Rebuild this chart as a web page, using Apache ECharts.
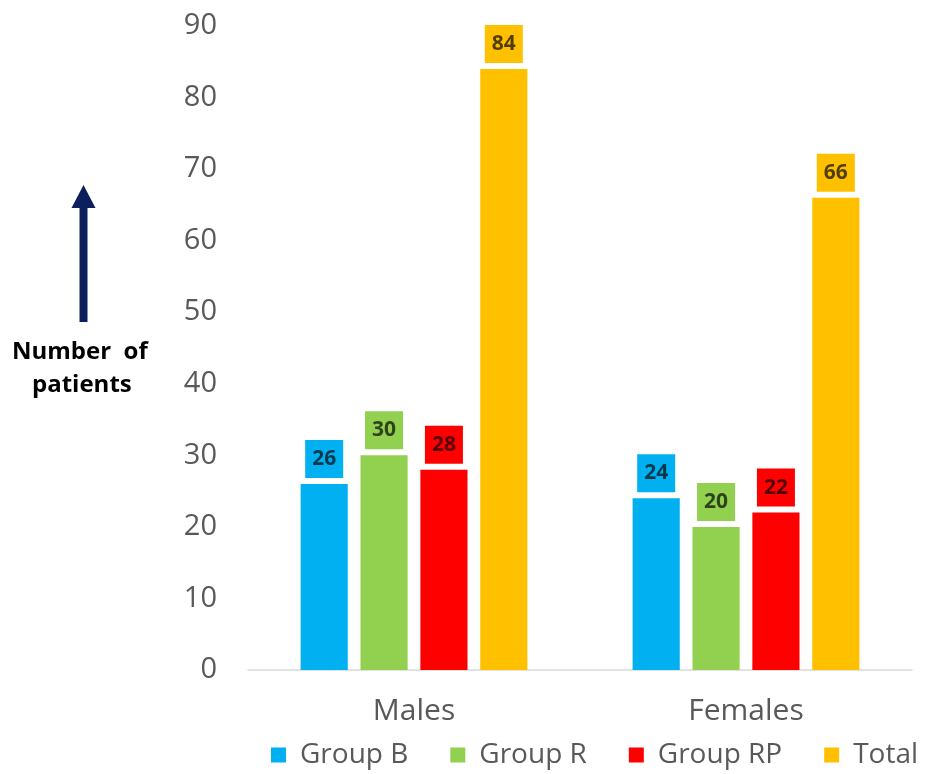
<!DOCTYPE html>
<html><head><meta charset="utf-8">
<script src="https://cdn.jsdelivr.net/npm/echarts@6/dist/echarts.min.js"></script>
<style>html,body{margin:0;padding:0;background:#fff}#c{width:929px;height:774px}</style>
</head><body><div id="c"></div>
<script>
const categories = ['Males', 'Females'];
const seriesNames = ['Group B', 'Group R', 'Group RP', 'Total'];
const groupB = [26, 24];
const groupR = [30, 20];
const groupRP = [28, 22];
const total = [84, 66];
const yTicks = [0, 10, 20, 30, 40, 50, 60, 70, 80, 90];
const colors = ['#00B0F0', '#92D050', '#FF0000', '#FFC000'];
const values = [groupB, groupR, groupRP, total];

const font = 'Open Sans';
const chart = echarts.init(document.getElementById('c'));
chart.setOption({
  animation: false,
  grid: { left: 248, right: 17, top: 26, bottom: 104 },
  xAxis: {
    type: 'category', data: categories,
    axisLine: { lineStyle: { color: '#D9D9D9', width: 1.5 } },
    axisTick: { show: false },
    axisLabel: { color: '#595959', fontSize: 30, fontFamily: font, margin: 26 }
  },
  yAxis: {
    type: 'value', min: yTicks[0], max: yTicks[yTicks.length - 1], interval: 10,
    splitLine: { show: false }, axisLine: { show: false }, axisTick: { show: false },
    axisLabel: { color: '#595959', fontSize: 29, fontFamily: font, margin: 31 }
  },
  legend: {
    top: 736, left: 266, itemWidth: 15, itemHeight: 15, itemGap: 42,
    icon: 'rect',
    textStyle: { color: '#595959', fontSize: 28, fontFamily: font, padding: [0, 0, 0, 9] },
    data: seriesNames
  },
  series: seriesNames.map((n, i) => ({
    name: n, type: 'bar', data: values[i],
    barWidth: '14.2%', barGap: '27%',
    itemStyle: { color: colors[i] },
    label: {
      show: true, position: 'top', distance: 6,
      backgroundColor: colors[i], padding: [7, 7, 7, 7],
      color: 'rgba(0,0,0,0.68)', fontSize: 21, fontWeight: 'bold', fontFamily: font,
      lineHeight: 24
    }
  })),
  graphic: [
    { type: 'rect', shape: { x: 79.5, y: 205, width: 8, height: 117 }, style: { fill: '#0B1F5C' } },
    { type: 'polygon', shape: { points: [[83.5, 185], [71.5, 208], [95.5, 208]] }, style: { fill: '#0B1F5C' } },
    { type: 'text', left: 12, top: 340, style: { text: 'Number  of', fill: '#000', font: 'bold 24px "Open Sans"' } },
    { type: 'text', left: 32, top: 373, style: { text: 'patients', fill: '#000', font: 'bold 24px "Open Sans"' } }
  ]
});
</script></body></html>
